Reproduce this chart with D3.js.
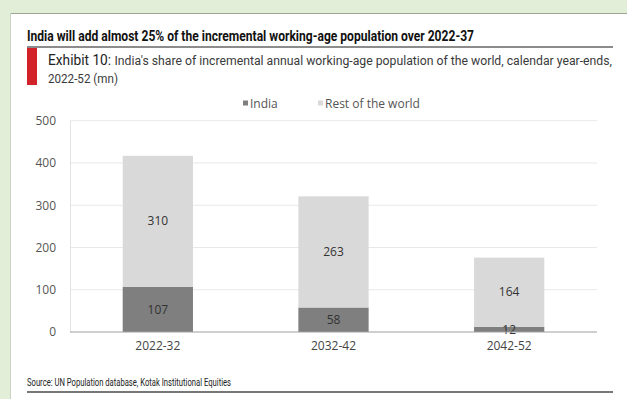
<!DOCTYPE html>
<html>
<head>
<meta charset="utf-8">
<script src="https://cdn.jsdelivr.net/npm/d3@7"></script>
<style>
  html, body { margin: 0; padding: 0; background: #e2eed8; }
  svg { display: block; }
</style>
</head>
<body>
<svg id="chart" width="627" height="399"></svg>
<script>
const categories = ["2022-32", "2032-42", "2042-52"];
const india = [107, 58, 12];
const restOfWorld = [310, 263, 164];
const seriesNames = ["India", "Rest of the world"];
const yTicks = [0, 100, 200, 300, 400, 500];

const svg = d3.select("#chart");
const W = 627, H = 399;

// white card
svg.append("rect").attr("x", 10).attr("y", 13).attr("width", W - 10).attr("height", H - 13).attr("fill", "#ffffff");
svg.append("line").attr("x1", 10).attr("x2", W).attr("y1", 13.5).attr("y2", 13.5).attr("stroke", "#9aa595").attr("stroke-width", 1);
svg.append("line").attr("x1", 10.5).attr("x2", 10.5).attr("y1", 13).attr("y2", H).attr("stroke", "#c9d3c3").attr("stroke-width", 1);

const condensed = "'Roboto', 'Liberation Sans', sans-serif";
const body = "'Open Sans', 'Noto Sans', sans-serif";

// headline
svg.append("text").attr("x", 27).attr("y", 41)
  .attr("font-family", condensed).attr("font-weight", "bold").attr("font-size", 14.5)
  .attr("fill", "#111")
  .attr("textLength", 447).attr("lengthAdjust", "spacingAndGlyphs")
  .text("India will add almost 25% of the incremental working-age population over 2022-37");
svg.append("line").attr("x1", 27).attr("x2", 613).attr("y1", 47).attr("y2", 47).attr("stroke", "#666").attr("stroke-width", 1.3);

// exhibit caption with red marker, drawn narrow and stretched vertically
svg.append("rect").attr("x", 27).attr("y", 48).attr("width", 10).attr("height", 37).attr("fill", "#d2232a");
const capG = svg.append("g").attr("transform", "translate(48,65) scale(1,1.08)");
const cap = capG.append("text").attr("x", 0).attr("y", 0)
  .attr("font-family", condensed).attr("font-size", 12.5).attr("fill", "#3a3a3a")
  .attr("textLength", 564).attr("lengthAdjust", "spacingAndGlyphs");
cap.append("tspan").attr("font-size", 14).attr("fill", "#222").text("Exhibit 10: ");
cap.append("tspan").text("India's share of incremental annual working-age population of the world, calendar year-ends,");
svg.append("g").attr("transform", "translate(48,83) scale(1,1.08)")
  .append("text")
  .attr("font-family", condensed).attr("font-size", 12.5).attr("fill", "#3a3a3a")
  .attr("textLength", 70).attr("lengthAdjust", "spacingAndGlyphs")
  .text("2022-52 (mn)");

// plot area
const margin = { left: 70, right: 597, top: 120.7, bottom: 332 };
const x = d3.scaleBand().domain(categories).range([margin.left, margin.right]).paddingInner(0.6).paddingOuter(0.3);
const y = d3.scaleLinear().domain([0, 500]).range([margin.bottom, margin.top]);

const data = categories.map((c, i) => ({ cat: c, India: india[i], "Rest of the world": restOfWorld[i] }));
const stacked = d3.stack().keys(seriesNames)(data);
const colors = { "India": "#7f7f7f", "Rest of the world": "#d9d9d9" };

// gridlines
svg.append("g").selectAll("line").data(yTicks.filter(t => t > 0)).join("line")
  .attr("x1", margin.left).attr("x2", margin.right)
  .attr("y1", d => y(d)).attr("y2", d => y(d))
  .attr("stroke", "#e8e8e8").attr("stroke-width", 1);
svg.append("line").attr("x1", margin.left + 0.5).attr("x2", margin.left + 0.5)
  .attr("y1", margin.top).attr("y2", margin.bottom).attr("stroke", "#e4e4e4");

// y axis labels
const yAxis = d3.axisLeft(y).tickValues(yTicks).tickSize(0).tickPadding(14);
const yg = svg.append("g").attr("transform", `translate(${margin.left},0)`).call(yAxis);
yg.select(".domain").remove();
yg.selectAll("text").attr("font-family", body).attr("font-size", 12).attr("fill", "#555");

// bars
svg.append("g").selectAll("g").data(stacked).join("g")
  .attr("fill", d => colors[d.key])
  .selectAll("rect").data(d => d).join("rect")
  .attr("x", d => x(d.data.cat))
  .attr("width", x.bandwidth())
  .attr("y", d => y(d[1]))
  .attr("height", d => y(d[0]) - y(d[1]));

// value labels
svg.append("g").selectAll("g").data(stacked).join("g")
  .selectAll("text").data(d => d.map(v => ({ v, key: d.key }))).join("text")
  .attr("x", d => x(d.v.data.cat) + x.bandwidth() / 2)
  .attr("y", d => y((d.v[0] + d.v[1]) / 2))
  .attr("dy", "0.35em")
  .attr("text-anchor", "middle")
  .attr("font-family", body).attr("font-size", 12).attr("fill", "#333")
  .text(d => d.v.data[d.key]);

// x axis
const xAxis = d3.axisBottom(x).tickSize(0).tickPadding(9);
const xg = svg.append("g").attr("transform", `translate(0,${margin.bottom})`).call(xAxis);
xg.select(".domain").attr("stroke", "#a0a0a0").attr("stroke-width", 1.2)
  .attr("d", `M${margin.left},0H${margin.right}`);
xg.selectAll("text").attr("font-family", body).attr("font-size", 12).attr("fill", "#444");

// legend
const legendItems = [{ name: "India", x: 243 }, { name: "Rest of the world", x: 318 }];
const lg = svg.append("g").selectAll("g").data(legendItems).join("g")
  .attr("transform", d => `translate(${d.x},104)`);
lg.append("rect").attr("x", 0).attr("y", -3.5).attr("width", 5).attr("height", 5)
  .attr("fill", d => d.name === "India" ? "#7f7f7f" : "#d9d9d9");
lg.append("text").attr("x", 7).attr("y", 0).attr("dy", "0.32em")
  .attr("font-family", body).attr("font-size", 12).attr("fill", "#555")
  .text(d => d.name);

// source note
svg.append("text").attr("x", 27).attr("y", 386)
  .attr("font-family", condensed).attr("font-size", 10.5).attr("fill", "#222")
  .attr("textLength", 204).attr("lengthAdjust", "spacingAndGlyphs")
  .text("Source: UN Population database, Kotak Institutional Equities");
svg.append("line").attr("x1", 27).attr("x2", 613).attr("y1", 392).attr("y2", 392).attr("stroke", "#777").attr("stroke-width", 1.8);
</script>
</body>
</html>
